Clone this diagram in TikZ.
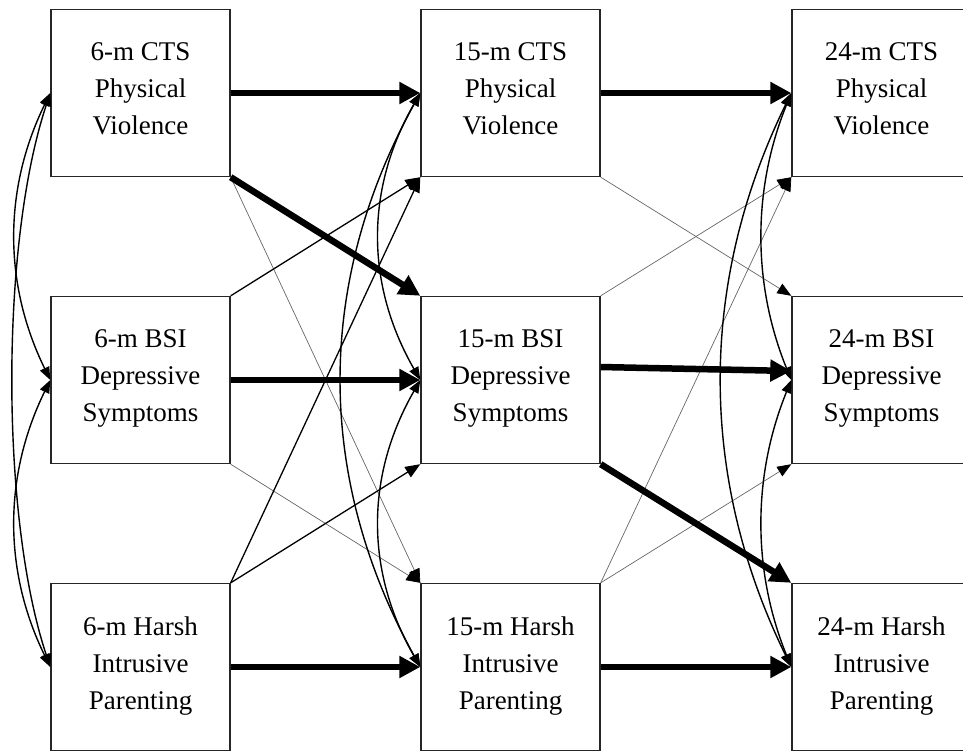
\documentclass[tikz,border=0pt]{standalone}
\usepackage{fontspec}
\setmainfont{Liberation Serif}
\usetikzlibrary{arrows.meta,calc}
\newcommand{\lowstrut}{\rule[-8pt]{0pt}{8pt}}
\begin{document}
\begin{tikzpicture}[x=1pt,y=1pt,
  box/.style={draw=black!85, line width=1.4pt, minimum width=179pt, minimum height=167pt, inner sep=0pt, align=center, font=\fontsize{27}{37}\selectfont, fill=white},
  heavy/.style={line width=6.5pt, -{Triangle[length=21pt,width=21pt]}},
  mid/.style={line width=1.3pt, -{Triangle[length=15pt,width=12pt]}},
  light/.style={line width=0.7pt, black!60, -{Triangle[length=14pt,width=11pt,color=black]}},
  cov/.style={line width=1.4pt, {Triangle[length=13pt,width=10pt]}-{Triangle[length=13pt,width=10pt]}}]
\useasboundingbox (0,0) rectangle (963,-750);
\node[box] (a1) at (140.5,-93) {6-m CTS\\Physical\\Violence\lowstrut};
\node[box] (a2) at (140.5,-380) {6-m BSI\\Depressive\\Symptoms\lowstrut};
\node[box] (a3) at (140.5,-667) {6-m Harsh\\Intrusive\\Parenting\lowstrut};
\node[box] (b1) at (510.5,-93) {15-m CTS\\Physical\\Violence\lowstrut};
\node[box] (b2) at (510.5,-380) {15-m BSI\\Depressive\\Symptoms\lowstrut};
\node[box] (b3) at (510.5,-667) {15-m Harsh\\Intrusive\\Parenting\lowstrut};
\node[box] (c1) at (881.5,-93) {24-m CTS\\Physical\\Violence\lowstrut};
\node[box] (c2) at (881.5,-380) {24-m BSI\\Depressive\\Symptoms\lowstrut};
\node[box] (c3) at (881.5,-667) {24-m Harsh\\Intrusive\\Parenting\lowstrut};
% light paths
\draw[light] (a1.south east) -- (b3.north west);
\draw[light] (a2.south east) -- (b3.north west);
\draw[light] (b1.south east) -- (c2.north west);
\draw[light] (b2.north east) -- (c1.south west);
\draw[light] (b3.north east) -- (c1.south west);
\draw[light] (b3.north east) -- (c2.south west);
% medium paths
\draw[mid] (a2.north east) -- (b1.south west);
\draw[mid] (a3.north east) -- (b1.south west);
\draw[mid] (a3.north east) -- (b2.south west);
% heavy paths
\draw[heavy] (a1.east) -- (b1.west);
\draw[heavy] (b1.east) -- (c1.west);
\draw[heavy] (a2.east) -- (b2.west);
\draw[heavy] ([yshift=13pt]b2.east) -- ([yshift=9pt]c2.west);
\draw[heavy] (a3.east) -- (b3.west);
\draw[heavy] (b3.east) -- (c3.west);
\draw[heavy] (a1.south east) -- (b2.north west);
\draw[heavy] (b2.south east) -- (c3.north west);
% covariances
\draw[cov] (a1.west) .. controls +(-47,-96) and +(-47,96) .. (a2.west);
\draw[cov] (a2.west) .. controls +(-47,-96) and +(-47,96) .. (a3.west);
\draw[cov] (a1.west) .. controls +(-50,-150) and +(-50,150) .. (a3.west);
\draw[cov] (b1.west) .. controls +(-55,-96) and +(-55,96) .. (b2.west);
\draw[cov] (b2.west) .. controls +(-55,-96) and +(-55,96) .. (b3.west);
\draw[cov] (b1.west) .. controls +(-105,-190) and +(-105,190) .. (b3.west);
\draw[cov] (c1.west) .. controls +(-39,-96) and +(-39,96) .. (c2.west);
\draw[cov] (c2.west) .. controls +(-39,-96) and +(-39,96) .. (c3.west);
\draw[cov] (c1.west) .. controls +(-93,-190) and +(-93,190) .. (c3.west);
\end{tikzpicture}
\end{document}
